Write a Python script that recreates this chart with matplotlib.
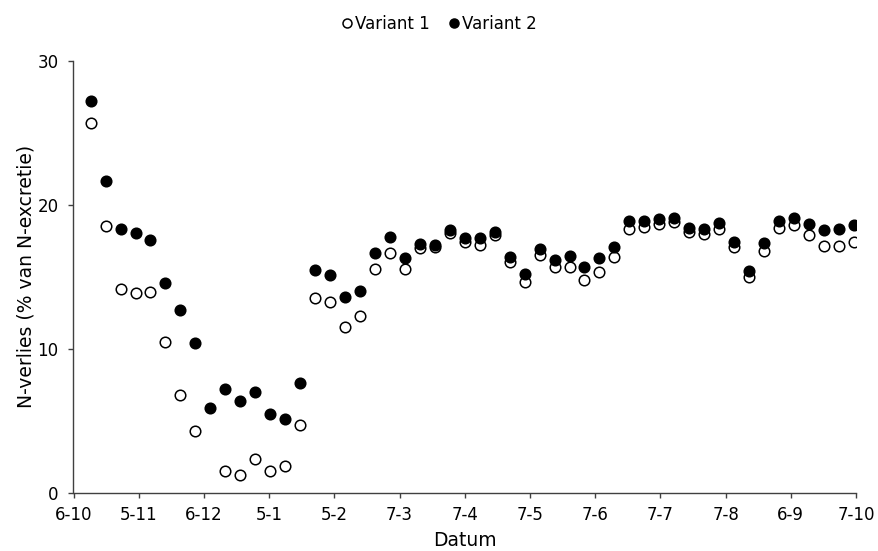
import numpy as np
import matplotlib
matplotlib.use("Agg")
import matplotlib.pyplot as plt
import matplotlib.dates as mdates
from datetime import date

# Meetdata (wekelijks)
datums = ["2006-10-14", "2006-10-21", "2006-10-28", "2006-11-04", "2006-11-11",
          "2006-11-18", "2006-11-25", "2006-12-02", "2006-12-09", "2006-12-16",
          "2006-12-23", "2006-12-30", "2007-01-06", "2007-01-13", "2007-01-20",
          "2007-01-27", "2007-02-03", "2007-02-10", "2007-02-17", "2007-02-24",
          "2007-03-03", "2007-03-10", "2007-03-17", "2007-03-24", "2007-03-31",
          "2007-04-07", "2007-04-14", "2007-04-21", "2007-04-28", "2007-05-05",
          "2007-05-12", "2007-05-19", "2007-05-26", "2007-06-02", "2007-06-09",
          "2007-06-16", "2007-06-23", "2007-06-30", "2007-07-07", "2007-07-14",
          "2007-07-21", "2007-07-28", "2007-08-04", "2007-08-11", "2007-08-18",
          "2007-08-25", "2007-09-01", "2007-09-08", "2007-09-15", "2007-09-22",
          "2007-09-29", "2007-10-06"]

# N-verlies (% van N-excretie)
variant_1 = [25.72, 18.54, 14.16, 13.86, 13.96, 10.47, 6.78, 4.29, np.nan, 1.5,
             1.2, 2.3, 1.5, 1.85, 4.69, 13.51, 13.26, 11.51, 12.29, 15.54,
             16.68, 15.54, 16.98, 17.05, 18.02, 17.45, 17.22, 17.88, 16.03, 14.64,
             16.54, 15.66, 15.7, 14.74, 15.33, 16.35, 18.3, 18.48, 18.64, 18.81,
             18.11, 17.95, 18.3, 17.05, 14.96, 16.82, 18.41, 18.6, 17.88, 17.12,
             17.12, 17.4]
variant_2 = [27.21, 21.63, 18.34, 18.04, 17.55, 14.56, 12.66, 10.37, 5.88, 7.18,
             6.38, 6.98, 5.49, 5.14, 7.58, 15.45, 15.1, 13.62, 14.01, 16.65,
             17.75, 16.31, 17.26, 17.22, 18.23, 17.7, 17.68, 18.14, 16.4, 15.17,
             16.94, 16.17, 16.45, 15.7, 16.31, 17.05, 18.88, 18.9, 19.02, 19.11,
             18.41, 18.32, 18.72, 17.45, 15.42, 17.36, 18.88, 19.11, 18.64, 18.25,
             18.32, 18.62]

# Datumas: 6-10 t/m 7-10, een label per 30,5 dag
x_start = "2006-10-06"
x_stop = "2007-10-07"
x_labels = ["6-10", "5-11", "6-12", "5-1", "5-2", "7-3", "7-4",
            "7-5", "7-6", "7-7", "7-8", "6-9", "7-10"]
y_ticks = [0, 10, 20, 30]

plt.rcParams["font.family"] = ["DejaVu Sans"]
axis_col = "#404040"

x = mdates.date2num([date.fromisoformat(d) for d in datums])
x0 = mdates.date2num(date.fromisoformat(x_start))
x1 = mdates.date2num(date.fromisoformat(x_stop))

fig = plt.figure(figsize=(8.79, 5.51), dpi=100)
ax = fig.add_axes([73.5 / 879, 1 - 492.5 / 551, (856 - 73.5) / 879, (492.5 - 61) / 551])

ax.plot(x, variant_1, linestyle="none", marker="o", ms=7.6,
        mfc="white", mec="black", mew=1.1, label="Variant 1", zorder=3)
ax.plot(x, variant_2, linestyle="none", marker="o", ms=7.6,
        mfc="black", mec="black", mew=1.1, label="Variant 2", zorder=4)

ax.set_xlim(x0, x1)
ax.set_ylim(0, 30)
ax.set_xticks(np.linspace(x0, x1, len(x_labels)))
ax.set_xticklabels(x_labels)
ax.set_yticks(y_ticks)

for side in ("top", "right"):
    ax.spines[side].set_visible(False)
for side in ("left", "bottom"):
    ax.spines[side].set_color(axis_col)
    ax.spines[side].set_linewidth(1.0)
ax.tick_params(axis="both", direction="out", length=3.3, width=1.0,
               color=axis_col, labelsize=12, labelcolor="black")
ax.tick_params(axis="x", pad=6.5)
ax.tick_params(axis="y", pad=7.5)

ax.set_xlabel("Datum", fontsize=13.5, labelpad=5)
ax.set_ylabel("N-verlies (% van N-excretie)", fontsize=13.5, labelpad=1)

fig.legend(loc="upper center", bbox_to_anchor=(0.5, 1.0), ncol=2,
           frameon=False, fontsize=12, handlelength=0.6, handletextpad=0.15,
           columnspacing=1.2, markerscale=0.85)

fig.savefig("out.png", dpi=100, facecolor="white")
